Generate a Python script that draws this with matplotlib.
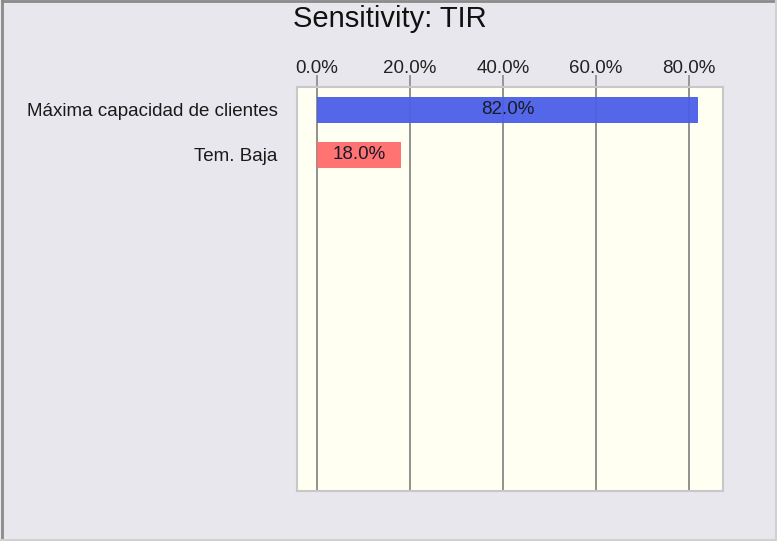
import matplotlib
matplotlib.use("Agg")
import matplotlib.pyplot as plt
from matplotlib.lines import Line2D

plt.rcParams['font.family'] = ['Liberation Sans', 'DejaVu Sans']

title = "Sensitivity: TIR"
categories = ["Máxima capacidad de clientes", "Tem. Baja"]
values = [82.0, 18.0]
colors = ["#4B5FE8", "#FF6B6B"]
xticks = [0, 20, 40, 60, 80]
xtick_labels = ["0.0%", "20.0%", "40.0%", "60.0%", "80.0%"]

W, H = 777, 541
fig = plt.figure(figsize=(W / 100, H / 100), dpi=100)
fig.patch.set_facecolor("#E9E7EE")

# axes box in pixel coords
left, right, top, bottom = 297, 723, 87, 491
ax = fig.add_axes([left / W, 1 - bottom / H, (right - left) / W, (bottom - top) / H])
ax.set_facecolor("#FFFFF2")

ypos = list(range(len(categories)))
ax.barh(ypos, values, height=0.56, color=colors, alpha=0.95, zorder=3,
        edgecolor="none")
for y, v in zip(ypos, values):
    ax.text(v / 2, y, f"{v:.1f}%", ha="center", va="center", fontsize=13.5,
            color="#1a1a2a", zorder=4)

ax.set_xlim(-4.3, 87.3)
ax.set_ylim(8.47, -0.51)
ax.set_xticks(xticks)
ax.set_xticklabels(xtick_labels, fontsize=13.5, color="#222222")
ax.xaxis.tick_top()
ax.tick_params(axis="x", direction="out", length=9, width=1.2, color="#888888", pad=-2)
ax.set_yticks(ypos)
ax.set_yticklabels(categories, fontsize=13.5, color="#1a1a1a")
ax.tick_params(axis="y", length=0, pad=14)
ax.grid(axis="x", color="#888888", linewidth=1.3, zorder=1)
for s in ax.spines.values():
    s.set_color("#C8C8C8")
    s.set_linewidth(1.5)

fig.text(390 / W, 1 - 19 / H, title, ha="center", va="center", fontsize=21,
         color="#111111")

# figure frame
fig.add_artist(Line2D([2 / W, 2 / W], [0, 1 - 1 / H], color="#8A8A8A", lw=2,
                      transform=fig.transFigure))
fig.add_artist(Line2D([2 / W, 1], [1 - 1 / H, 1 - 1 / H], color="#8A8A8A", lw=2,
                      transform=fig.transFigure))
fig.add_artist(Line2D([1 - 1 / W, 1 - 1 / W], [0, 1], color="#D0D0D0", lw=1.5,
                      transform=fig.transFigure))
fig.add_artist(Line2D([0, 1], [1 / H, 1 / H], color="#D0D0D0", lw=1.5,
                      transform=fig.transFigure))

fig.savefig("out.png", dpi=100, facecolor=fig.get_facecolor())
